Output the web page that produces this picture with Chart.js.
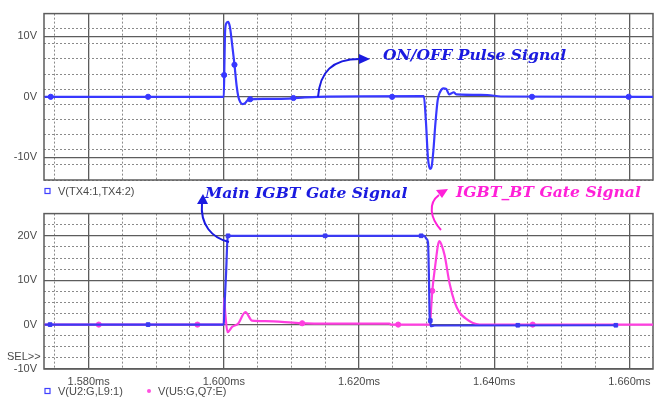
<!DOCTYPE html>
<html lang="en">
<head>
<meta charset="UTF-8">
<title>Gate signals</title>
<script src="https://cdn.jsdelivr.net/npm/chart.js@4.4.1/dist/chart.umd.min.js"></script>
<style>
  body { margin: 0; background: #fff; }
  .wrap { position: relative; width: 658px; height: 400px; overflow: hidden; }
  .wrap canvas { position: absolute; left: 0; }
  #topChart { top: 0; }
  #botChart { top: 200px; }
  .wrap svg { position: absolute; left: 0; top: 0; pointer-events: none; }
  .lbl { font-family: "Liberation Sans", Arial, sans-serif; font-size: 11px; fill: #4a4a4a; }
  .note { font-family: "DejaVu Serif", serif; font-weight: bold; font-style: italic; font-size: 15.6px; }
</style>
</head>
<body>
<div class="wrap">
  <canvas id="topChart" width="658" height="200"></canvas>
  <canvas id="botChart" width="658" height="200"></canvas>
  <svg width="658" height="400">
    <!-- annotations -->
    <text class="note" x="383" y="60" fill="#1a1ae0">ON/OFF Pulse Signal</text>
    <path d="M318,97 C320,72 332,59 360,59" fill="none" stroke="#1a1ae0" stroke-width="2"/>
    <polygon points="370,59 359,54 359,64" fill="#1a1ae0"/>

    <text class="note" x="205" y="198" fill="#1a1ae0">Main IGBT Gate Signal</text>
    <path d="M229,242 C212,238 200,225 202,203" fill="none" stroke="#1a1ae0" stroke-width="2"/>
    <polygon points="203,194 197,204 208,204" fill="#1a1ae0"/>

    <text class="note" x="456" y="197" fill="#ff20d8">IGBT_BT Gate Signal</text>
    <path d="M441,230 C430,218 428,203 439,195" fill="none" stroke="#ff20d8" stroke-width="2"/>
    <polygon points="448,189 442,198 436,190" fill="#ff20d8"/>

    <!-- trace legends -->
    <rect x="45" y="188.5" width="5" height="5" fill="none" stroke="#4040ff" stroke-width="1.2"/>
    <text class="lbl" x="58" y="195">V(TX4:1,TX4:2)</text>
    <rect x="45" y="388.5" width="5" height="5" fill="none" stroke="#4040ff" stroke-width="1.2"/>
    <text class="lbl" x="58" y="395">V(U2:G,L9:1)</text>
    <circle cx="149" cy="391" r="2" fill="#ff50e0"/>
    <text class="lbl" x="158" y="395">V(U5:G,Q7:E)</text>
    <text class="lbl" x="7" y="360">SEL&gt;&gt;</text>
  </svg>
</div>

<script>
// time axis in microseconds
const xMin = 1573.4, xMax = 1663.5;
const xMajor = [1580, 1600, 1620, 1640, 1660];
const topYMajor = [-10, 0, 10];
const botYMajor = [-10, 0, 10, 20];

// V(TX4:1,TX4:2) - on/off pulse
const topTime = [1573.5, 1600.0, 1600.1, 1600.2, 1600.4, 1600.63, 1600.9, 1601.2, 1601.58, 1601.9, 1602.15,
  1602.45, 1602.8, 1603.2, 1603.6, 1606, 1609.6, 1612, 1614, 1629.6, 1629.9, 1630.2, 1630.5, 1630.75,
  1631.0, 1631.3, 1631.65, 1632.0, 1632.5, 1632.9, 1633.35, 1633.7, 1634.0, 1634.4, 1639, 1641, 1663.5];
const topVolt = [0, 0, 6, 11, 12.2, 12.4, 11.6, 9, 5.3, 1.8, 0,
  -0.9, -1.2, -1.0, -0.5, -0.35, -0.3, -0.1, 0, 0.1, -4, -10, -11.9, -11.5,
  -9, -4.5, -0.5, 0.8, 1.4, 1.3, 0.4, 0.6, 0.75, 0.4, 0.3, 0.05, 0];
const topMarkTime = [1574.4, 1588.8, 1600.05, 1601.58, 1603.9, 1610.3, 1624.9, 1645.6, 1659.9];
const topMarkVolt = [0, 0, 3.6, 5.3, -0.4, -0.2, 0, 0, 0];

// V(U2:G,L9:1) - main IGBT gate
const mainTime = [1573.5, 1600.0, 1600.1, 1600.35, 1600.55, 1600.75, 1629.3, 1629.67, 1630.0, 1630.21,
  1630.36, 1630.45, 1630.55, 1630.62, 1631.2, 1658];
const mainVolt = [0, 0, 3.9, 12, 19.3, 20, 20, 20, 19.3, 18.5,
  10, 2, 0.9, -0.35, -0.2, -0.15];
const mainMarkTime = [1574.3, 1588.8, 1600.63, 1615.0, 1629.2, 1630.55, 1643.5, 1658.0];
const mainMarkVolt = [0, 0, 20, 20, 20, 0.9, -0.15, -0.15];

// V(U5:G,Q7:E) - IGBT_BT gate
const btTime = [1573.5, 1600.0, 1600.04, 1600.25, 1600.55, 1601.23, 1602.11, 1603.2, 1604.18, 1606.15,
  1611.07, 1615.5, 1624.5, 1624.7, 1630.5, 1630.65, 1630.85, 1631.3, 1631.7, 1631.93, 1632.2, 1632.67,
  1633.4, 1634.14, 1634.88, 1635.87, 1636.86, 1637.83, 1663.5];
const btVolt = [0, 0, 6, 2, -1.7, -0.5, 0.2, 2.8, 0.9, 0.8,
  0.35, 0.2, 0.2, 0, 0, 3, 7.6, 13.5, 18, 18.8, 18, 15.6,
  9.3, 5.1, 2.7, 1.3, 0.35, 0, 0];
const btMarkTime = [1581.5, 1596.1, 1611.6, 1625.8, 1630.85, 1645.7];
const btMarkVolt = [0, 0, 0.3, 0, 7.6, 0];

const majorColor = '#5c5c5c';
const minorColor = '#8a8a8a';
const textColor = '#4a4a4a';
const tickFont = { family: '"Liberation Sans", Arial, sans-serif', size: 11 };

const pts = (xs, ys) => xs.map((x, i) => ({ x: x, y: ys[i] }));
const isMajor = (v, s) => Math.abs(v / s - Math.round(v / s)) < 1e-6;

function traceDs(xs, ys, color) {
  return { data: pts(xs, ys), showLine: true, borderColor: color, borderWidth: 2.2,
    pointRadius: 0, cubicInterpolationMode: 'monotone' };
}
function markDs(xs, ys, color, style) {
  return { data: pts(xs, ys), showLine: false, pointRadius: 2.6, pointStyle: style,
    backgroundColor: color, borderColor: color, borderWidth: 1 };
}

function makeScales(yMin, yMax, yMajor, showX, yStep) {
  return {
    x: {
      type: 'linear', min: xMin, max: xMax,
      afterBuildTicks: ax => { ax.ticks = xMajor.map(v => ({ value: v })); },
      afterFit: ax => { ax.height = showX ? 20 : 0; },
      grid: { color: majorColor, lineWidth: 1.3, drawTicks: false },
      border: { display: false },
      ticks: { display: showX, padding: 6, maxRotation: 0, autoSkip: false, color: textColor, font: tickFont,
        callback: v => (v / 1000).toFixed(3) + 'ms' }
    },
    xm: {
      type: 'linear', position: 'bottom', min: xMin, max: xMax,
      afterFit: ax => { ax.height = 0; },
      grid: { color: c => (c.tick && isMajor(c.tick.value, 20)) ? 'rgba(0,0,0,0)' : minorColor,
        lineWidth: 1, drawTicks: false },
      border: { display: false, dash: [2, 2] },
      ticks: { display: false, stepSize: 5, includeBounds: false, maxTicksLimit: 100 }
    },
    y: {
      type: 'linear', min: yMin, max: yMax,
      afterBuildTicks: ax => { ax.ticks = yMajor.map(v => ({ value: v })); },
      afterFit: ax => { ax.width = 44; },
      grid: { color: majorColor, lineWidth: 1.3, drawTicks: false },
      border: { display: false },
      ticks: { padding: 7, color: textColor, font: tickFont, callback: v => v + 'V' }
    },
    ym: {
      type: 'linear', position: 'left', min: yMin, max: yMax,
      afterFit: ax => { ax.width = 0; },
      grid: { color: c => (c.tick && isMajor(c.tick.value, 10)) ? 'rgba(0,0,0,0)' : minorColor,
        lineWidth: 1, drawTicks: false },
      border: { display: false, dash: [2, 2] },
      ticks: { display: false, stepSize: yStep, includeBounds: false, maxTicksLimit: 100 }
    }
  };
}

const frame = {
  id: 'frame',
  beforeDatasetsDraw(chart) {
    const { ctx, chartArea: a } = chart;
    ctx.save();
    ctx.strokeStyle = majorColor;
    ctx.lineWidth = 1.5;
    ctx.strokeRect(a.left, a.top, a.right - a.left, a.bottom - a.top);
    ctx.restore();
  }
};

const common = {
  responsive: false,
  animation: false,
  plugins: { legend: { display: false }, tooltip: { enabled: false } }
};

new Chart(document.getElementById('topChart'), {
  type: 'scatter',
  data: { datasets: [
    traceDs(topTime, topVolt, '#3838ff'),
    markDs(topMarkTime, topMarkVolt, '#3838ff', 'circle')
  ] },
  options: Object.assign({}, common, {
    layout: { padding: { top: 13, right: 3, bottom: 20, left: 0 } },
    scales: makeScales(-13.75, 13.75, topYMajor, false, 2.5)
  }),
  plugins: [frame]
});

new Chart(document.getElementById('botChart'), {
  type: 'scatter',
  data: { datasets: [
    traceDs(mainTime, mainVolt, '#3a3af2'),
    markDs(mainMarkTime, mainMarkVolt, '#3a3af2', 'rect'),
    traceDs(btTime, btVolt, '#ff3ee0'),
    markDs(btMarkTime, btMarkVolt, '#ff3ee0', 'circle')
  ] },
  options: Object.assign({}, common, {
    layout: { padding: { top: 2, right: 3, bottom: 11, left: 0 } },
    scales: makeScales(-10, 25, botYMajor, true, 2.5)
  }),
  plugins: [frame]
});
</script>
</body>
</html>
